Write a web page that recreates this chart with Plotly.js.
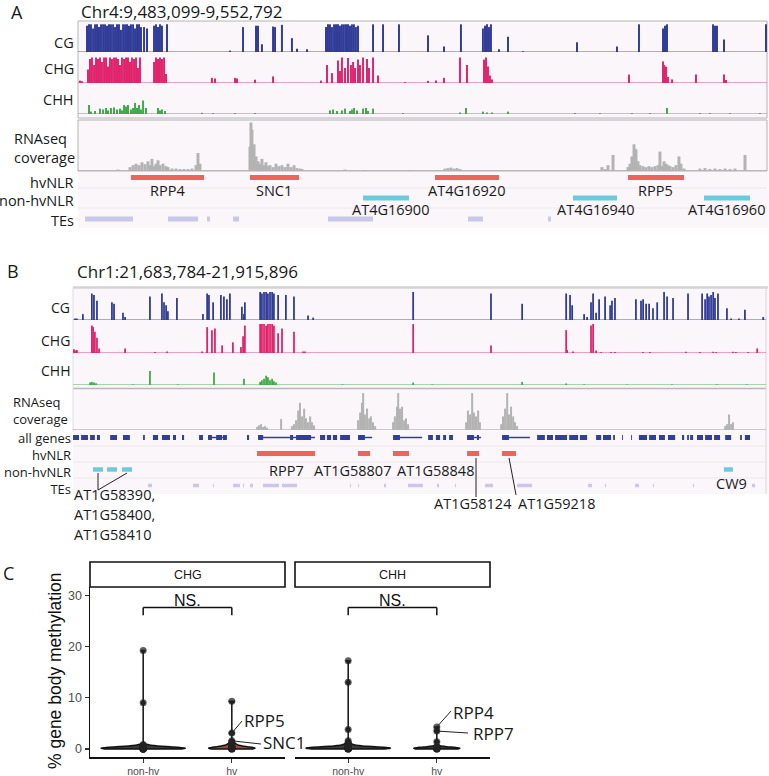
<!DOCTYPE html>
<html><head><meta charset="utf-8">
<script src="https://cdn.plot.ly/plotly-3.0.1.min.js"></script>
<style>html,body{margin:0;padding:0;background:#fff}#chart{width:769px;height:776px}</style>
</head><body><div id="chart"></div>
<script>
// ================= DATA =================
// Panel A: Chr4:9,483,099-9,552,792 ; positions in kb from window start
const A_LEN = 69.693;
const aCgPos = [0.91,1.11,1.31,1.52,1.72,1.92,2.12,2.32,2.53,2.73,2.93,3.13,3.33,3.54,3.74,3.94,4.14,4.34,4.55,4.75,4.95,5.15,5.35,5.56,5.76,5.96,6.16,6.36,
  6.67,6.97,7.68,7.88,8.08,8.28,8.48,8.99,
  15.35,16.67,17.98,18.18,18.58,19.7,19.9,20.6,21.61,22.12,23.13,
  25.05,25.25,25.45,25.65,25.86,26.06,26.26,26.46,26.66,26.86,27.07,27.27,27.47,27.67,27.87,28.07,28.28,
  29.8,30.81,32.42,35.35,36.97,38.68,
  40.9,41.11,41.31,41.51,41.71,
  42.52,43.43,44.95,50.4,54.44,56.66,
  59.09,59.29,59.49,
  64.14,64.34,64.54,65.25,69.49];
const aCgVal = [0.95,1,1,0.85,1,1,0.9,1,1,1,0.95,1,1,1,0.9,1,1,0.8,1,1,1,0.95,1,1,0.85,1,1,0.9,
  0.9,0.85,0.95,1,0.9,1,0.95,1,
  0.05,0.9,0.95,0.95,0.28,0.92,0.9,0.98,0.5,0.12,0.1,
  0.9,1,1,0.9,1,1,1,0.95,1,1,1,1,0.95,1,1,0.9,0.95,
  1,1,1,0.6,0.2,1,
  0.85,0.95,1,0.9,1,
  0.1,0.55,0.03,0.35,0.2,1,
  0.85,0.95,1,
  1,0.95,0.95,0.45,1];
const aChgPos = [0.2,0.4,
  1.01,1.21,1.41,1.62,1.82,2.02,2.22,2.42,2.63,2.83,3.03,3.23,3.43,3.64,3.84,4.04,4.24,4.44,4.65,4.85,5.05,5.25,5.45,5.66,5.86,6.06,6.26,
  7.68,7.88,8.08,8.28,8.48,8.69,8.89,
  13.53,13.84,15.86,16.06,17.88,19.7,
  24.54,25.15,25.65,26.26,26.46,26.66,26.97,27.27,27.57,27.78,27.98,28.28,28.48,28.79,29.19,29.39,29.8,30.3,
  33.03,35.35,36.16,36.97,38.58,39.29,41.01,41.21,41.41,41.61,41.81,
  55.65,59.09,59.19,59.39,59.59,60.0,62.42,65.25,65.45];
const aChgVal = [0.08,0.06,
  0.45,0.8,0.85,0.6,0.85,0.8,0.85,0.7,0.85,0.85,0.55,0.85,0.8,0.85,0.85,0.8,0.6,0.85,0.8,0.85,0.85,0.7,0.85,0.8,0.85,0.5,0.85,
  0.7,0.85,0.8,0.85,0.8,0.85,0.3,
  0.17,0.15,0.17,0.15,0.11,0.22,
  0.08,0.6,0.33,0.75,0.4,0.85,0.5,0.83,0.6,0.7,0.5,0.78,0.6,0.85,0.8,0.5,0.85,0.25,
  0.03,0.07,0.08,0.17,0.85,0.6,0.78,0.85,0.55,0.25,0.12,
  0.28,0.72,0.6,0.55,0.2,0.12,0.28,0.28,0.1];
const aChhPos = [1.11,1.31,1.72,2.22,2.53,2.83,3.03,3.33,3.64,3.94,4.24,4.44,4.65,4.85,5.05,5.35,5.56,5.76,5.96,6.16,6.36,6.57,6.87,8.08,8.28,8.48,8.79,12.52,13.64,15.86,17.88,
  25.45,25.76,26.16,26.66,26.97,27.47,27.67,27.88,28.18,28.79,29.09,29.29,29.8,32.83,38.58,39.19,40.9,41.31,41.81,43.43,
  50.2,52.72,55.95,57.77,59.49,62.82,63.83,65.85,68.88];
const aChhVal = [0.3,0.08,0.1,0.18,0.15,0.2,0.12,0.2,0.22,0.15,0.18,0.12,0.3,0.25,0.3,0.15,0.2,0.37,0.2,0.3,0.15,0.45,0.2,0.2,0.12,0.15,0.1,0.04,0.03,0.03,0.03,
  0.12,0.15,0.1,0.12,0.18,0.1,0.15,0.2,0.12,0.18,0.2,0.1,0.18,0.03,0.05,0.2,0.08,0.05,0.05,0.08,
  0.03,0.03,0.03,0.03,0.2,0.03,0.03,0.03,0.03];
const aRnaPos = [4.04,5.25,5.56,5.86,6.16,6.46,6.77,7.07,7.27,7.47,7.68,7.88,8.08,8.28,8.59,8.89,9.09,9.49,9.9,10.3,10.71,11.11,11.51,11.92,12.12,12.32,
  17.37,17.47,17.57,17.78,17.98,18.18,18.38,18.58,18.79,18.99,19.19,19.39,19.7,20.0,20.3,20.6,20.91,21.21,21.51,21.82,22.12,22.42,22.62,
  26.97,28.99,33.53,37.07,37.37,37.67,37.98,38.28,38.58,
  52.92,53.23,53.53,54.04,55.55,55.75,55.95,56.16,56.36,56.56,56.76,57.07,57.37,57.67,57.97,58.28,58.58,58.78,58.98,59.19,59.39,59.59,59.79,60.1,60.4,60.7,60.9,61.21,62.82,63.33,63.83,64.34,64.84,65.35,65.85,66.36,67.37];
const aRnaVal = [0.03,0.08,0.12,0.15,0.12,0.18,0.14,0.2,0.12,0.25,0.1,0.15,0.22,0.12,0.15,0.1,0.08,0.05,0.05,0.04,0.04,0.04,0.05,0.12,0.37,0.15,
  0.5,1.0,0.85,0.55,0.3,0.2,0.15,0.25,0.12,0.18,0.1,0.12,0.08,0.15,0.1,0.12,0.08,0.15,0.08,0.12,0.06,0.05,0.04,
  0.03,0.02,0.02,0.05,0.06,0.07,0.05,0.06,0.04,
  0.08,0.04,0.12,0.33,0.08,0.15,0.3,0.55,0.45,0.2,0.12,0.1,0.08,0.1,0.08,0.1,0.12,0.4,0.1,0.2,0.15,0.12,0.1,0.08,0.12,0.3,0.15,0.05,0.05,0.06,0.04,0.05,0.04,0.05,0.04,0.05,0.33];
const aHvName = ['RPP4','SNC1','AT4G16920','RPP5'];
const aHvStart = [5.35,17.37,36.06,55.55];
const aHvEnd = [12.73,22.32,42.52,61.21];
const aNhName = ['AT4G16900','AT4G16940','AT4G16960'];
const aNhStart = [28.79,50.0,63.23];
const aNhEnd = [33.43,54.44,67.87];
const aTeStart = [0.71,9.09,13.03,15.66,25.25,39.39,47.47];
const aTeEnd = [5.56,12.12,13.33,16.26,29.8,40.9,47.77];

// Panel B: Chr1:21,683,784-21,915,896 ; positions in kb from window start
const B_LEN = 232.112;
const bCgPos = [0.7,1.3,3.3,6.3,7.0,8.0,13.0,13.7,16.7,17.4,25.7,29.7,30.4,31.1,31.7,34.7,43.4,44.8,45.4,46.8,49.4,50.4,51.4,52.4,56.4,57.1,57.4,
  62.5,63.1,63.8,64.5,65.1,65.8,66.5,67.1,
  68.5,71.1,73.8,78.5,80.2,113.6,139.6,150.0,
  164.7,166.0,166.7,170.7,171.7,173.0,173.7,174.7,175.7,177.7,179.4,180.0,181.0,
  188.0,189.7,190.4,191.4,192.4,193.7,195.1,197.4,198.4,200.4,205.4,
  210.1,211.1,211.8,212.4,213.1,213.8,214.4,215.4,218.4,219.8,222.4,224.4,230.5];
const bCgVal = [0.05,0.05,0.2,0.9,0.85,0.65,0.6,0.55,0.25,0.1,0.8,0.9,0.6,0.5,0.3,0.75,0.2,0.9,0.85,0.6,0.85,0.8,0.7,0.9,0.45,0.2,0.6,
  0.95,0.9,0.95,0.95,0.9,0.95,0.95,0.9,
  0.85,0.85,0.8,0.15,0.08,0.95,0.9,0.55,
  0.9,0.85,0.5,0.2,0.1,0.6,0.9,0.25,0.7,0.8,0.5,0.65,0.75,
  0.7,0.65,0.7,0.55,0.55,0.4,0.6,0.95,0.8,0.75,0.9,
  0.9,0.7,0.9,0.8,0.85,0.95,0.75,0.9,0.4,0.05,0.05,0.35,0.1];
const bChgPos = [0.3,0.7,1.3,6.3,6.7,7.3,8.0,8.7,17.4,27.4,31.4,43.1,44.8,46.4,47.4,49.8,53.4,56.1,56.8,57.4,
  62.5,63.1,63.8,64.5,65.1,65.8,66.5,67.1,
  68.5,69.8,73.8,76.8,77.5,113.6,139.6,
  164.7,165.0,167.0,173.0,173.7,174.7,176.4,179.7,181.0,190.4,192.7,204.7,209.4,213.8,214.8,220.4,221.4,225.5,228.5];
const bChgVal = [0.12,0.08,0.1,0.9,0.85,0.7,0.5,0.15,0.15,0.03,0.05,0.05,0.85,0.75,0.8,0.25,0.35,0.2,0.55,0.9,
  0.95,0.95,0.95,0.9,0.95,0.95,0.95,0.9,
  0.65,0.8,0.7,0.05,0.05,0.95,0.25,
  0.75,0.1,0.05,0.9,0.95,0.08,0.03,0.03,0.03,0.03,0.03,0.04,0.03,0.04,0.03,0.04,0.03,0.03,0.15];
const bChhPos = [5.7,6.3,7.0,7.7,20.0,25.7,35.0,47.1,57.1,62.5,63.1,63.8,64.5,65.1,65.8,66.5,67.1,67.8,90.0,113.6,120.0,150.0,164.7,170.7,185.0,200.0,215.0,225.0];
const bChhVal = [0.08,0.1,0.08,0.06,0.02,0.45,0.02,0.4,0.2,0.1,0.15,0.2,0.3,0.25,0.15,0.2,0.12,0.08,0.02,0.08,0.02,0.1,0.05,0.02,0.02,0.02,0.02,0.02];
const bRnaPos = [61.5,62.1,62.8,63.5,64.1,64.8,69.5,73.1,73.8,74.5,75.2,75.8,76.5,77.2,77.8,78.5,79.2,79.8,80.5,
  95.2,95.9,96.5,96.9,97.5,98.2,98.9,99.5,100.2,100.9,
  106.9,107.5,108.2,108.6,109.2,109.9,110.6,111.2,111.9,
  131.3,131.9,132.6,133.3,133.9,134.6,135.3,135.9,
  143.0,143.6,144.3,145.0,145.6,146.3,147.0,147.6,148.3,
  217.8,218.4,219.1,219.8,220.4];
const bRnaVal = [0.08,0.12,0.15,0.08,0.1,0.06,0.28,0.1,0.15,0.25,0.5,0.7,0.35,0.55,0.3,0.2,0.35,0.2,0.12,
  0.25,0.45,0.7,0.95,0.4,0.55,0.3,0.35,0.2,0.1,
  0.2,0.35,0.6,0.95,0.55,0.6,0.25,0.3,0.15,
  0.2,0.5,0.4,0.95,0.45,0.35,0.5,0.2,
  0.15,0.35,0.55,0.95,0.4,0.6,0.35,0.2,0.1,
  0.1,0.15,0.4,0.15,0.2];
const bGeneStart = [0.0,2.7,5.7,8.0,12.4,16.7,23.4,26.7,29.7,33.4,36.4,42.1,45.1,47.8,50.1,58.1,61.8,72.5,74.5,82.5,84.8,86.8,89.2,95.2,106.9,118.6,121.2,123.6,125.6,131.6,134.9,143.3,155.0,158.3,161.0,165.7,169.3,174.7,177.0,180.4,183.4,186.4,189.0,192.4,195.7,198.7,203.4,205.1,206.1,208.4,211.1,214.1,217.8,222.8,224.4];
const bGeneEnd = [2.0,5.0,7.3,9.0,14.7,19.0,24.0,28.4,32.4,34.4,37.1,43.4,46.4,49.8,51.4,58.8,63.5,73.5,79.5,84.2,86.2,88.2,92.5,97.5,109.2,120.2,122.6,124.6,126.9,133.9,135.6,145.6,157.6,160.3,165.0,168.7,171.7,176.4,179.7,181.0,183.7,186.7,191.7,194.7,197.7,201.1,204.1,205.7,207.1,210.4,213.4,216.1,219.8,223.4,226.1];
const bIntronStart = [45.1,61.8,95.2,106.9,131.6,143.3];
const bIntronEnd = [51.4,80.8,99.9,116.6,136.3,152.6];
const bHvName = ['RPP7','AT1G58807','AT1G58848','AT1G58124','AT1G59218'];
const bHvStart = [61.46,95.19,106.88,131.6,143.29];
const bHvEnd = [80.83,99.2,112.22,135.6,147.96];
const bNhName = ['AT1G58390','AT1G58400','AT1G58410','CW9'];
const bNhStart = [6.68,11.36,16.37,217.4];
const bNhEnd = [10.02,14.7,19.71,220.4];
const bTeStart = [25.05,40.08,46.76,53.44,56.78,59.12,63.46,69.81,92.52,95.19,103.87,111.89,121.58,127.59,137.61,148.3,172.01,177.69,187.71,193.72,207.08,226.79];
const bTeEnd = [26.39,42.08,47.09,55.78,57.11,60.12,68.8,74.82,92.85,95.52,104.54,116.9,122.24,127.92,140.28,153.31,173.35,178.02,189.04,194.05,207.41,227.79];

// Panel C: % gene body methylation
const groups = ['non-hv','hv'];
const chgNonHv = [19.2,9.0,0.9,0.7,0.6,0.5,0.5,0.4,0.4,0.4,0.3,0.3,0.3,0.3,0.2,0.2,0.2,0.2,0.2,0.2,0.1,0.1,0.1,0.1,0.1,0.1,0.1,0.1,0.0,0.0,0.0,0.0,0.0,0.0,0.0,0.0];
const chgHv = [9.3,3.1,1.6,1.1,0.8,0.6,0.5,0.4,0.3,0.3,0.2,0.2,0.1,0.1,0.1,0.0,0.0,0.0];
const chhNonHv = [17.2,13.0,3.8,1.6,1.2,0.9,0.7,0.6,0.5,0.5,0.4,0.4,0.3,0.3,0.3,0.3,0.2,0.2,0.2,0.2,0.2,0.2,0.2,0.1,0.1,0.1,0.1,0.1,0.1,0.1,0.1,0.1,0.0,0.0,0.0,0.0];
const chhHv = [4.3,3.5,1.4,0.5,0.3,0.3,0.2,0.2,0.2,0.1,0.1,0.1,0.1,0.0,0.0,0.0];

// ================= HELPERS =================
const W = 769, H = 776;
const px = v => v / W;
const py = v => 1 - v / H;
const dom = (top, bot) => [1 - bot / H, 1 - top / H];
const FONT = '"Open Sans", "Noto Sans", sans-serif';
const SANS = '"Liberation Sans", Arial, sans-serif';
const C_CG = '#303c98', C_CHG = '#e0246b', C_CHH = '#3dab48', C_RNA = '#b3b3b3',
      C_HV = '#ef6459', C_NHV = '#6ccbdb', C_TE = '#c9c8e8', C_GENE = '#2e3f9e';
const kbPxA = A_LEN / 690, kbPxB = B_LEN / 695;
const mid = (s, e, i) => (s[i] + e[i]) / 2;

function bars(xs, ys, xa, ya, color, w) {
  return {type:'bar', x:xs, y:ys, xaxis:xa, yaxis:ya, width:w,
    marker:{color:color, line:{width:0}}, hoverinfo:'skip', showlegend:false};
}
function segs(starts, ends, row, xa, ya, color, lw) {
  const x = [], y = [];
  starts.forEach((s, i) => { x.push(s, ends[i], null); y.push(row, row, null); });
  return {type:'scatter', mode:'lines', x:x, y:y, xaxis:xa, yaxis:ya,
    line:{color:color, width:lw}, hoverinfo:'skip', showlegend:false};
}

// ================= TRACES =================
const traces = [
  bars(aCgPos, aCgVal, 'x', 'y', C_CG, 0.2),
  bars(aChgPos, aChgVal, 'x', 'y2', C_CHG, 0.2),
  bars(aChhPos, aChhVal, 'x', 'y3', C_CHH, 0.2),
  bars(aRnaPos, aRnaVal, 'x', 'y4', C_RNA, 0.3),
  segs(aHvStart, aHvEnd, 5.5, 'x', 'y5', C_HV, 5),
  segs(aNhStart, aNhEnd, 26, 'x', 'y5', C_NHV, 5),
  segs(aTeStart, aTeEnd, 47, 'x', 'y5', C_TE, 5),

  bars(bCgPos, bCgVal, 'x2', 'y6', C_CG, 0.6),
  bars(bChgPos, bChgVal, 'x2', 'y7', C_CHG, 0.6),
  bars(bChhPos, bChhVal, 'x2', 'y8', C_CHH, 0.6),
  bars(bRnaPos, bRnaVal, 'x2', 'y9', C_RNA, 0.67),
  segs(bIntronStart, bIntronEnd, 6.5, 'x2', 'y10', C_GENE, 1.5),
  segs(bGeneStart, bGeneEnd, 6.5, 'x2', 'y10', C_GENE, 5),
  segs(bHvStart, bHvEnd, 22.5, 'x2', 'y10', C_HV, 5),
  segs(bNhStart, bNhEnd, 38.5, 'x2', 'y10', C_NHV, 4.5),
  segs(bTeStart, bTeEnd, 54.5, 'x2', 'y10', C_TE, 3.5)
];

function violin(vals, grp, xa, ya, w, fill) {
  return {type:'violin', y:vals, x0:grp, name:grp, xaxis:xa, yaxis:ya,
    points:'all', jitter:0, pointpos:0, spanmode:'hard', bandwidth:0.2, width:w,
    line:{color:'#111', width:1.5}, fillcolor:fill,
    marker:{color:'rgba(35,35,35,0.72)', size:7},
    hoverinfo:'skip', showlegend:false};
}
traces.push(
  violin(chgNonHv, groups[0], 'x3', 'y11', 0.95, '#3a3a3a'),
  violin(chgHv, groups[1], 'x3', 'y11', 0.52, '#a84846'),
  violin(chhNonHv, groups[0], 'x4', 'y12', 0.95, '#3a3a3a'),
  violin(chhHv, groups[1], 'x4', 'y12', 0.52, '#3a3a3a')
);

// ================= AXES =================
const hid = (domain, range, anchor) => ({domain:domain, range:range, anchor:anchor,
  visible:false, fixedrange:true, autorange:false});
const layout = {
  width:W, height:H, margin:{l:0, r:0, t:0, b:0},
  paper_bgcolor:'#ffffff', plot_bgcolor:'rgba(0,0,0,0)',
  showlegend:false, barmode:'overlay', violinmode:'overlay',
  font:{family:FONT, color:'#1a1a1a'},
  xaxis: hid([px(78), px(768)], [0, A_LEN], 'y'),
  yaxis: hid(dom(21, 52), [0, 1.12], 'x'),
  yaxis2: hid(dom(53, 83), [0, 1.0], 'x'),
  yaxis3: hid(dom(84, 114), [0, 1.0], 'x'),
  yaxis4: hid(dom(121, 171), [0, 1.03], 'x'),
  yaxis5: hid(dom(172, 228), [56, 0], 'x'),
  xaxis2: hid([px(73), px(768)], [0, B_LEN], 'y6'),
  yaxis6: hid(dom(287, 320), [0, 1.12], 'x2'),
  yaxis7: hid(dom(321, 353), [0, 1.05], 'x2'),
  yaxis8: hid(dom(354, 385), [0, 1.0], 'x2'),
  yaxis9: hid(dom(390, 430), [0, 1.03], 'x2'),
  yaxis10: hid(dom(431, 494), [63, 0], 'x2'),
  annotations:[], shapes:[]
};
const catAxis = (domain, anchor) => ({domain:domain, anchor:anchor, type:'category',
  categoryorder:'array', categoryarray:groups, range:[-0.6, 1.6], fixedrange:true,
  showline:true, linecolor:'#111', linewidth:1.5, ticks:'outside', ticklen:4, tickwidth:1.2,
  tickcolor:'#333', tickfont:{family:SANS, size:10.5, color:'#4d4d4d'},
  showgrid:false, zeroline:false, automargin:false});
layout.xaxis3 = catAxis([px(90), px(285)], 'y11');
layout.xaxis4 = catAxis([px(295), px(490)], 'y12');
layout.yaxis11 = {domain:dom(587, 757), anchor:'x3', range:[-1.56, 31.6], fixedrange:true,
  showline:true, linecolor:'#111', linewidth:1.5, ticks:'outside', ticklen:4, tickwidth:1.2,
  tickcolor:'#333', tickvals:[0,10,20,30], tickfont:{family:SANS, size:12.5, color:'#4d4d4d'},
  showgrid:false, zeroline:false, automargin:false};
layout.yaxis12 = {domain:dom(587, 757), anchor:'x4', range:[-1.56, 31.6], fixedrange:true,
  showline:false, ticks:'', showticklabels:false, showgrid:false, zeroline:false};

// ================= SHAPES =================
const S = layout.shapes;
const prect = (x0, x1, y0, y1, fill, lc, lw) => S.push({type:'rect', xref:'paper', yref:'paper',
  x0:px(x0), x1:px(x1), y0:py(y1), y1:py(y0), fillcolor:fill, line:{color:lc || 'rgba(0,0,0,0)', width:lw || 0}, layer:'below'});
const pline = (x0, y0, x1, y1, c, w, layer) => S.push({type:'line', xref:'paper', yref:'paper',
  x0:px(x0), y0:py(y0), x1:px(x1), y1:py(y1), line:{color:c, width:w}, layer:layer || 'below'});
const baseline = (ya, x0, x1, c) => S.push({type:'line', xref:'paper', yref:ya, x0:px(x0), x1:px(x1),
  y0:0, y1:0, line:{color:c, width:1}, layer:'below'});

// Panel A frame
prect(78, 768, 21, 228, '#faf6f9');
prect(78, 767, 21, 118, 'rgba(0,0,0,0)', '#b4b4b4', 1);
prect(78, 767, 120, 171, 'rgba(0,0,0,0)', '#b4b4b4', 1);
pline(78, 188, 767, 188, '#efe8ed', 1);
pline(78, 208, 767, 208, '#efe8ed', 1);
baseline('y', 78, 767, '#5260ae');
baseline('y2', 78, 767, '#d9508b');
baseline('y3', 78, 767, '#58b461');
baseline('y4', 78, 767, '#9c9c9c');

// Panel B frame
prect(73, 768, 286, 494, '#faf6f9');
pline(73, 287.5, 768, 287.5, '#d4d4d4', 2.5);
pline(73, 388.5, 766, 388.5, '#b8b8b8', 1.5);
pline(73, 287, 73, 431, '#e2dde0', 1);
pline(766, 287, 766, 494, '#dcd7da', 1);
pline(73, 446, 766, 446, '#efe8ed', 1);
pline(73, 462, 766, 462, '#efe8ed', 1);
pline(73, 478, 766, 478, '#efe8ed', 1);
baseline('y6', 73, 766, '#5260ae');
baseline('y7', 73, 766, '#d9508b');
baseline('y8', 73, 766, '#58b461');
baseline('y9', 73, 766, '#9c9c9c');

// Leader lines, panel B
const dline = (xa, x0, y0, x1, y1) => S.push({type:'line', xref:xa, yref:'paper',
  x0:x0, x1:x1, y0:py(y0), y1:py(y1), line:{color:'#222', width:1}, layer:'above'});
const c1 = mid(bNhStart, bNhEnd, 0), c3 = mid(bNhStart, bNhEnd, 2);
dline('x2', c1, 473, c1, 490);
dline('x2', c1, 490, c3, 473);
const c124 = mid(bHvStart, bHvEnd, 3), c218 = mid(bHvStart, bHvEnd, 4);
dline('x2', c124 + 3 * kbPxB, 458, c124 + 3 * kbPxB, 497);
dline('x2', c218, 458, c218 + 7 * kbPxB, 495);

// Panel C: strips, brackets, leader lines
S.push({type:'rect', xref:'paper', yref:'paper', x0:px(90), x1:px(285), y0:py(587), y1:py(562),
  fillcolor:'#fff', line:{color:'#111', width:1.6}});
S.push({type:'rect', xref:'paper', yref:'paper', x0:px(295), x1:px(490), y0:py(587), y1:py(562),
  fillcolor:'#fff', line:{color:'#111', width:1.6}});
['x3','x4'].forEach((xa, k) => {
  const ya = k === 0 ? 'y11' : 'y12';
  const L = (x0, y0, x1, y1) => S.push({type:'line', xref:xa, yref:ya, x0:x0, y0:y0, x1:x1, y1:y1,
    line:{color:'#111', width:1.5}});
  L(0, 27.6, 1, 27.6); L(0, 27.6, 0, 26.1); L(1, 27.6, 1, 26.1);
});
const lead = (xa, ya, x0, y0, x1, y1) => S.push({type:'line', xref:xa, yref:ya, x0:x0, y0:y0, x1:x1, y1:y1,
  line:{color:'#222', width:1}});
lead('x3', 'y11', 1, chgHv[1], 1.115, 5.46);
lead('x3', 'y11', 1, chgHv[2], 1.33, 0.97);
lead('x4', 'y12', 1, chhHv[0], 1.16, 7.4);
lead('x4', 'y12', 1, chhHv[1], 1.352, 3.12);

// ================= ANNOTATIONS =================
const A = layout.annotations;
const pt = (text, x, y, size, anchor, family) => A.push({text:text, xref:'paper', yref:'paper',
  x:px(x), y:py(y), xanchor:anchor || 'center', yanchor:'middle', align:anchor || 'center', showarrow:false,
  font:{family:family || FONT, size:size, color:'#1a1a1a'}});
pt('A', 17, 12, 18); pt('Chr4:9,483,099-9,552,792', 79, 12, 17, 'left');
pt('B', 13, 271, 18); pt('Chr1:21,683,784-21,915,896', 75, 271, 17, 'left');
pt('C', 8, 573, 18);

// Track labels
[['CG',42],['CHG',68],['CHH',100],['hvNLR',182],['non-hvNLR',201],['TEs',220]].forEach(d => pt(d[0], 76, d[1], 14.5, 'right'));
pt('RNAseq<br>coverage', 12, 147.5, 14.5, 'left');
[['CG',308],['CHG',340],['CHH',370]].forEach(d => pt(d[0], 72, d[1], 14, 'right'));
pt('RNAseq<br>coverage', 11, 410, 13, 'left');
pt('all genes<br>hvNLR<br>non-hvNLR<br>TEs', 72.5, 463.5, 13, 'right');

// Gene labels
const gl = (text, xa, x, y, xshift, anchor) => A.push({text:text, xref:xa, yref:'paper', x:x, y:py(y),
  xanchor:anchor || 'center', yanchor:'middle', xshift:xshift || 0, showarrow:false,
  font:{family:FONT, size:14.5, color:'#1a1a1a'}});
aHvName.forEach((n, i) => gl(n, 'x', mid(aHvStart, aHvEnd, i), 190.5));
aNhName.forEach((n, i) => gl(n, 'x', mid(aNhStart, aNhEnd, i), 209.5, i === 0 ? 4 : 0));
gl(bHvName[0], 'x2', mid(bHvStart, bHvEnd, 0), 471);
gl(bHvName[1], 'x2', mid(bHvStart, bHvEnd, 1), 471, -12);
gl(bHvName[2], 'x2', mid(bHvStart, bHvEnd, 2), 471, 34);
gl(bHvName[3], 'x2', c124, 503);
gl(bHvName[4], 'x2', c218, 503, 7, 'left');
gl(bNhName[3], 'x2', mid(bNhStart, bNhEnd, 3), 483, 3);
pt(bNhName[0] + ',', 72, 495, 14.5, 'left');
pt(bNhName[1] + ',', 72, 514.5, 14.5, 'left');
pt(bNhName[2], 72, 534, 14.5, 'left');

// Panel C text
pt('CHG', 187.5, 575, 12.5, 'center', SANS);
pt('CHH', 392.5, 575, 12.5, 'center', SANS);
A.push({text:'% gene body methylation', xref:'paper', yref:'paper', x:px(55), y:py(671),
  textangle:-90, showarrow:false, xanchor:'center', yanchor:'middle',
  font:{family:SANS, size:17.5, color:'#111'}});
[['x3','y11'],['x4','y12']].forEach(a => A.push({text:'NS.', xref:a[0], yref:a[1], x:0.5, y:28.9,
  showarrow:false, xanchor:'center', yanchor:'middle', font:{family:SANS, size:16, color:'#111'}}));
const cl = (text, xa, ya, x, y) => A.push({text:text, xref:xa, yref:ya, x:x, y:y, xanchor:'left',
  yanchor:'middle', showarrow:false, font:{family:FONT, size:17, color:'#1a1a1a'}});
cl('RPP5', 'x3', 'y11', 1.115, 5.5);
cl('SNC1', 'x3', 'y11', 1.33, 1.27);
cl('RPP4', 'x4', 'y12', 1.16, 7.2);
cl('RPP7', 'x4', 'y12', 1.38, 3.12);

Plotly.newPlot('chart', traces, layout, {staticPlot:true, displayModeBar:false});
</script>
</body></html>
